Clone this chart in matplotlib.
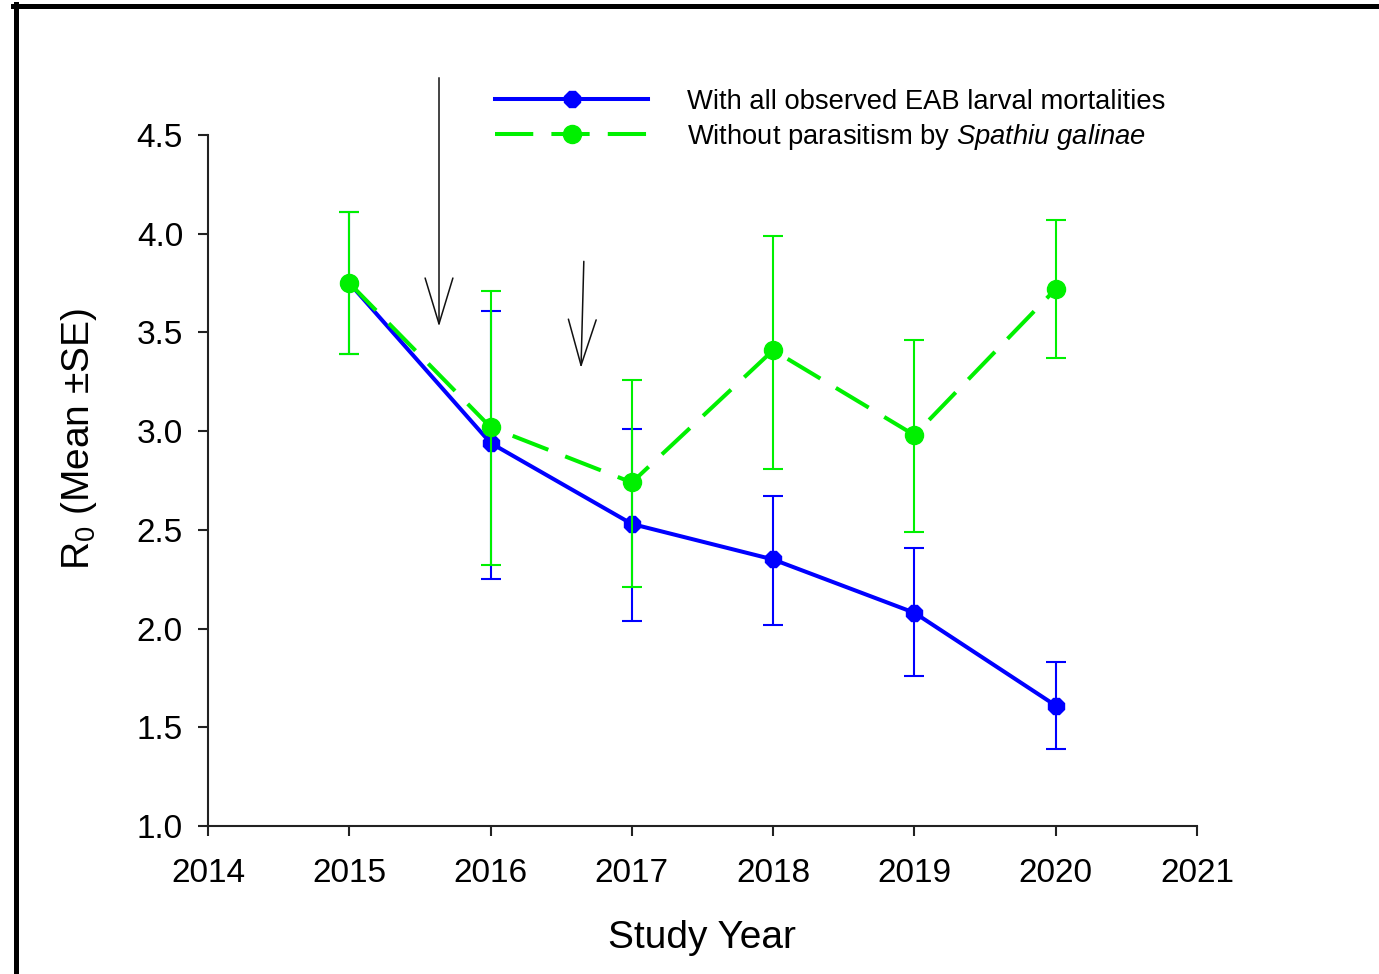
import matplotlib
matplotlib.use('Agg')
import matplotlib.pyplot as plt
from matplotlib.lines import Line2D
import numpy as np

plt.rcParams['font.family'] = ['Liberation Sans', 'DejaVu Sans']
plt.rcParams['mathtext.fontset'] = 'custom'
plt.rcParams['mathtext.rm'] = 'Liberation Sans'
plt.rcParams['mathtext.it'] = 'Liberation Sans:italic'

years = [2015, 2016, 2017, 2018, 2019, 2020]

# R0 with all observed larval mortalities
r0_all = [3.75, 2.94, 2.53, 2.35, 2.08, 1.61]
r0_all_lo = [3.39, 2.25, 2.04, 2.02, 1.76, 1.39]
r0_all_hi = [4.11, 3.61, 3.01, 2.67, 2.41, 1.83]

# R0 without parasitism by S. galinae
r0_nopar = [3.75, 3.02, 2.74, 3.41, 2.98, 3.72]
r0_nopar_lo = [3.39, 2.32, 2.21, 2.81, 2.49, 3.37]
r0_nopar_hi = [4.11, 3.71, 3.26, 3.99, 3.46, 4.07]

# release arrows: (x, y_tail, x_tip, y_tip)
arrows = [(2015.635, 4.79, 2015.635, 3.53),
          (2016.66, 3.86, 2016.64, 3.32)]

blue = '#0000ff'
green = '#00f000'

fig = plt.figure(figsize=(13.79, 9.74), dpi=100)
ax = fig.add_axes([208/1379, 1-826/974, (1197-208)/1379, (826-135)/974])

def err(v, lo, hi):
    v = np.array(v)
    return [v - np.array(lo), np.array(hi) - v]

ax.errorbar(years, r0_all, yerr=err(r0_all, r0_all_lo, r0_all_hi), fmt='none',
            ecolor=blue, elinewidth=1.5, capsize=7.5, capthick=1.5, zorder=2)
ax.plot(years, r0_all, color=blue, lw=2.9, marker='8', ms=13,
        label='With all observed EAB larval mortalities', zorder=3)

ax.errorbar(years, r0_nopar, yerr=err(r0_nopar, r0_nopar_lo, r0_nopar_hi), fmt='none',
            ecolor=green, elinewidth=1.5, capsize=7.5, capthick=1.5, zorder=4)
ax.plot(years, r0_nopar, color=green, lw=2.9, ls=(0, (9.5, 4.5)), marker='o', ms=13,
        label=r'Without parasitism by $\it{Spathiu\ galinae}$', zorder=5)

for x0, y0, x1, y1 in arrows:
    ax.annotate('', xy=(x1, y1), xytext=(x0, y0),
                arrowprops=dict(arrowstyle='->,head_length=33,head_width=10',
                                mutation_scale=1, lw=1.1, color='#111111',
                                shrinkA=0, shrinkB=0))

ax.set_xlim(2014, 2021)
ax.set_ylim(1.0, 4.5)
ax.set_xticks(range(2014, 2022))
ax.set_yticks(np.arange(1.0, 4.51, 0.5))
ax.set_yticklabels([f'{v:.1f}' for v in np.arange(1.0, 4.51, 0.5)])
for s in ['top', 'right']:
    ax.spines[s].set_visible(False)
for s in ['left', 'bottom']:
    ax.spines[s].set_linewidth(1.5)
    ax.spines[s].set_color('#222222')
ax.tick_params(axis='both', direction='out', length=7, width=1.5, color='#222222',
               labelsize=24)
ax.tick_params(axis='y', pad=11)
ax.tick_params(axis='x', pad=16)

ax.set_xlabel('Study Year', fontsize=28, labelpad=22)
ax.set_ylabel(r'R$_0$ (Mean ±SE)', fontsize=28)
ax.yaxis.set_label_coords(-0.11, 0.56)

ax.legend(loc='upper left', bbox_to_anchor=(495/1379, 1-89/974),
          bbox_transform=fig.transFigure, frameon=False, fontsize=19.7,
          handlelength=5.6, handletextpad=1.4, labelspacing=0.25,
          borderpad=0, borderaxespad=0)

# page frame
fig.add_artist(Line2D([13/1379, 1.01], [1-6/974, 1-6/974], color='black', lw=3.6,
                      transform=fig.transFigure))
fig.add_artist(Line2D([15.5/1379, 15.5/1379], [1-4/974, -0.01], color='black', lw=3.6,
                      transform=fig.transFigure))

fig.savefig('out.png', dpi=100)
